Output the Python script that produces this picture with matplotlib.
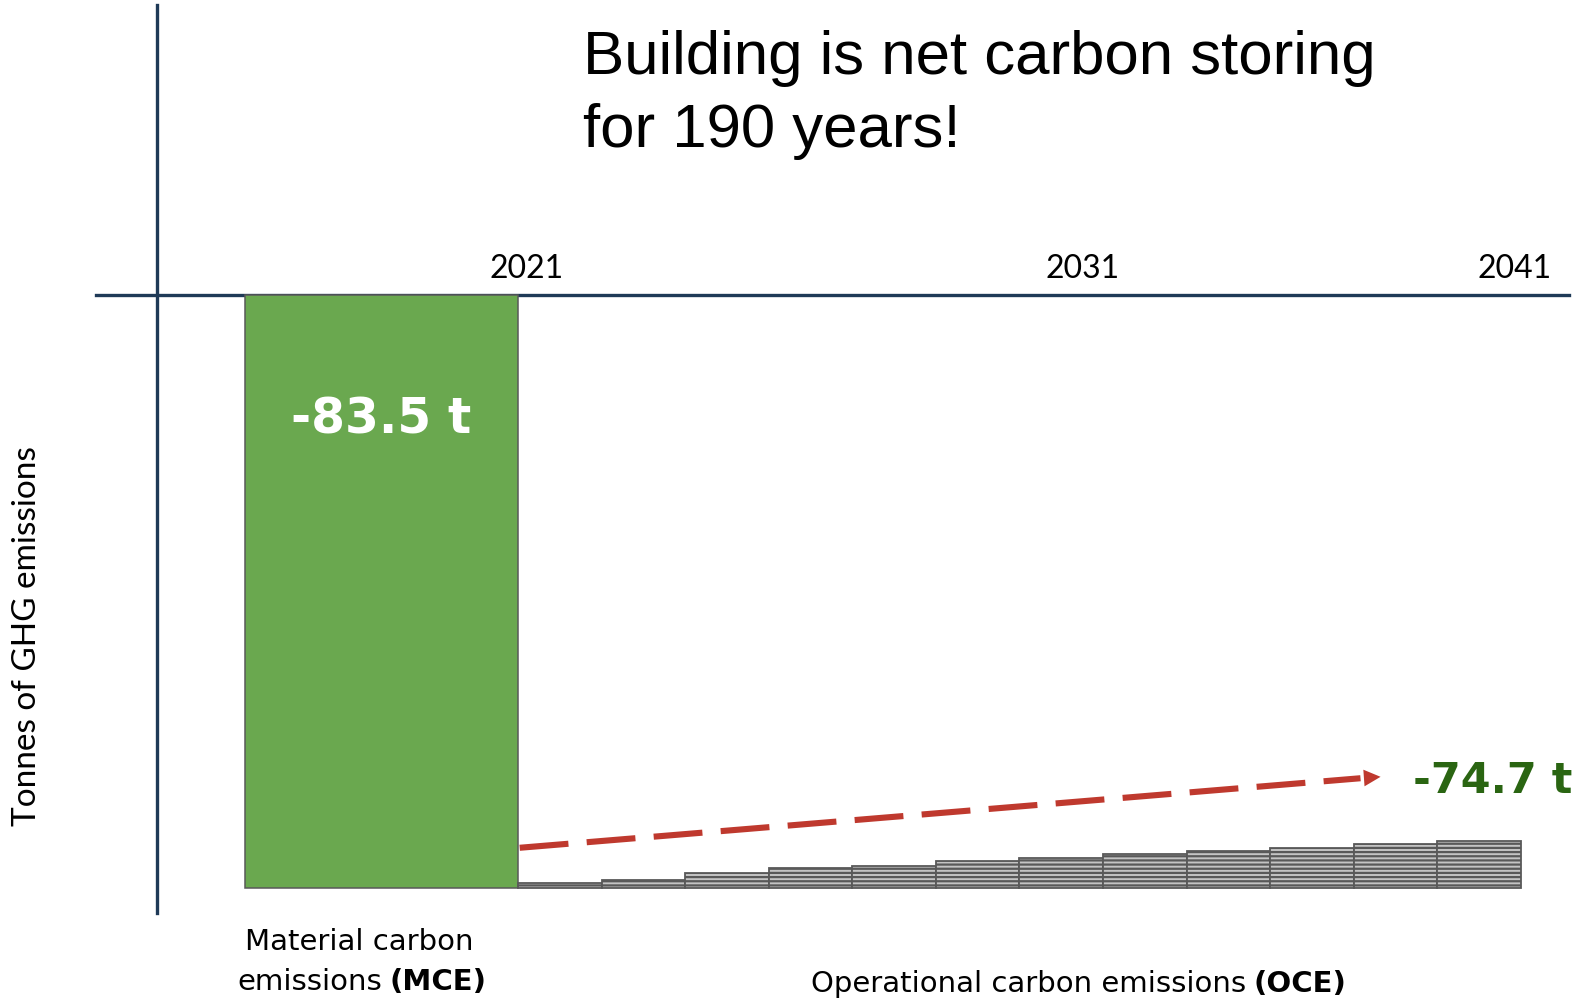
import matplotlib
matplotlib.use("Agg")
from matplotlib import pyplot as plt

# tonnes of CO2e
mce_value = -83.5
net_value = -74.7
oce_values = [0.7, 1.1, 2.1, 2.7, 3.1, 3.7, 4.1, 4.7, 5.1, 5.6, 6.2, 6.6]
year_labels = ["2021", "2031", "2041"]

navy = "#1F3A57"
green = "#6AA84F"
dark_green = "#2A6512"
red = "#BF392E"
grey = "#595959"

plt.rcParams["hatch.color"] = grey
plt.rcParams["hatch.linewidth"] = 1.6

fig = plt.figure(figsize=(15.9, 9.98), dpi=100)
ax = fig.add_axes([0, 0, 1, 1])
ax.set_xlim(-6.198, 12.826)
ax.set_ylim(-99.07, 41.57)
ax.set_xticks([])
ax.set_yticks([])

# the two axis lines cross at 0 t, a bit left of the first bar
for s in ["top", "right"]:
    ax.spines[s].set_visible(False)
ax.spines["left"].set_position(("data", -4.32))
ax.spines["left"].set_bounds(-87.1, 40.87)
ax.spines["bottom"].set_position(("data", 0))
ax.spines["bottom"].set_bounds(-5.05, 12.575)
for s in ["left", "bottom"]:
    ax.spines[s].set_color(navy)
    ax.spines[s].set_linewidth(2.4)
    ax.spines[s].set_zorder(1)

# material carbon: one wide bar hanging below zero
mce_width = 3.266
ax.bar(-mce_width / 2, mce_value, width=mce_width, color=green,
       edgecolor=grey, linewidth=1.1, zorder=3)
ax.text(-mce_width / 2, -19.45, f"{mce_value:.1f} t", color="white",
        fontsize=35, fontweight="bold", family="DejaVu Sans",
        ha="center", va="baseline", zorder=4)

# operational carbon, one hatched step per year sitting on the MCE floor
xs = [i + 0.5 for i in range(len(oce_values))]
ax.bar(xs, oce_values, width=1.0, bottom=mce_value, color="#C4C4C4",
       edgecolor=grey, linewidth=1.3, hatch="----", zorder=3)

# dashed trend arrow to the net figure
ax.plot([0.02, 10.08], [-77.9, -68.1], color=red, lw=4.4,
        dashes=(8, 3), solid_capstyle="butt", dash_capstyle="butt", zorder=4)
ax.annotate("", xy=(10.32, -67.9), xytext=(10.0, -68.17),
            arrowprops=dict(arrowstyle="-|>,head_length=12,head_width=6",
                            mutation_scale=1, color=red, lw=0,
                            shrinkA=0, shrinkB=0), zorder=4)
ax.text(11.66, -70.15, f"{net_value:.1f} t", color=dark_green, fontsize=31,
        fontweight="bold", family="DejaVu Sans", ha="center", va="baseline")

# year markers above the horizontal axis
for x, lab in zip([0.108, 6.76, 11.92], year_labels):
    ax.text(x, 2.4, lab, fontsize=23, family="Lato", ha="center",
            va="baseline", color="black")

fig.text(27 / 1590, 1 - 636 / 998, "Tonnes of GHG emissions", rotation=90,
         fontsize=24, family="Lato", ha="center", va="center")

fig.text(583 / 1590, 1 - 74 / 998, "Building is net carbon storing",
         fontsize=44.5, family="Liberation Sans", va="baseline")
fig.text(583 / 1590, 1 - 147 / 998, "for 190 years!",
         fontsize=44.5, family="Liberation Sans", va="baseline")

# category captions under the bars, acronym in bold
fig.text(359 / 1590, 1 - 950 / 998, "Material carbon", fontsize=21,
         family="DejaVu Sans", ha="center", va="baseline")
fig.text(382 / 1590, 1 - 990 / 998, "emissions", fontsize=21,
         family="DejaVu Sans", ha="right", va="baseline")
fig.text(389 / 1590, 1 - 990 / 998, "(MCE)", fontsize=21,
         family="DejaVu Sans", fontweight="bold", ha="left", va="baseline")
fig.text(1246 / 1590, 1 - 992 / 998, "Operational carbon emissions",
         fontsize=21, family="DejaVu Sans", ha="right", va="baseline")
fig.text(1254 / 1590, 1 - 992 / 998, "(OCE)", fontsize=21,
         family="DejaVu Sans", fontweight="bold", ha="left", va="baseline")

fig.savefig("out.png", dpi=100)
